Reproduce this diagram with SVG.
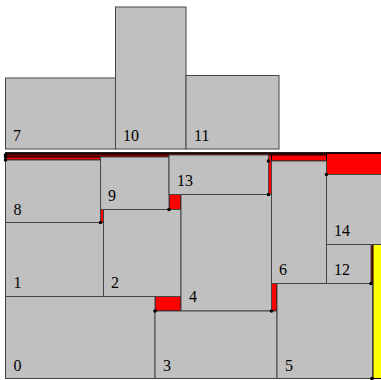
<svg xmlns="http://www.w3.org/2000/svg" width="381" height="380" viewBox="0 0 381 380">
<style>
.b{fill:#c0c0c0;stroke:#444;stroke-width:1}
.w{fill:#ff0000;stroke:#000;stroke-width:1}
.y{fill:#ffff00;stroke:#000;stroke-width:1}
.t{font-family:"Liberation Serif","Times New Roman",serif;font-size:16px;fill:#000}
.d{fill:#000}
</style>
<rect width="381" height="380" fill="#fff"/>
<g id="n7"><rect class="b" x="5.5" y="78" width="110" height="71"/><text class="t" x="13" y="141">7</text></g>
<g id="n10"><rect class="b" x="115.5" y="7" width="70.5" height="142"/><text class="t" x="123" y="141">10</text></g>
<g id="n11"><rect class="b" x="186" y="75.5" width="93" height="73.5"/><text class="t" x="194" y="141">11</text></g>
<g id="waste">
<rect class="w" x="5.5" y="153" width="378" height="2"/>
<rect class="w" x="5.5" y="155" width="163.5" height="2"/>
<rect class="w" x="5.5" y="157" width="95" height="3"/>
<rect class="w" x="271.5" y="155" width="55" height="6"/>
<rect class="w" x="268.5" y="155" width="3" height="39.5"/>
<rect class="w" x="326.5" y="153" width="57" height="21.5"/>
<rect class="w" x="100.5" y="209.5" width="3" height="13"/>
<rect class="w" x="169" y="194.5" width="12" height="15"/>
<rect class="w" x="155" y="296.5" width="26" height="14.5"/>
<rect class="w" x="271.5" y="283.5" width="5.5" height="27.5"/>
<rect class="w" x="371" y="244.5" width="2" height="39"/>
<rect class="y" x="373" y="244.5" width="10" height="134"/>
</g>
<g id="n8"><rect class="b" x="5.5" y="160" width="95" height="62.5"/><text class="t" x="13.5" y="214.5">8</text></g>
<g id="n9"><rect class="b" x="100.5" y="157" width="68.5" height="52.5"/><text class="t" x="108" y="201">9</text></g>
<g id="n13"><rect class="b" x="169" y="155" width="99.5" height="39.5"/><text class="t" x="177" y="186">13</text></g>
<g id="n6"><rect class="b" x="271.5" y="161" width="55" height="122.5"/><text class="t" x="279" y="275">6</text></g>
<g id="n14"><rect class="b" x="326.5" y="174.5" width="57" height="70"/><text class="t" x="334" y="236">14</text></g>
<g id="n12"><rect class="b" x="326.5" y="244.5" width="44.5" height="39"/><text class="t" x="334" y="275">12</text></g>
<g id="n1"><rect class="b" x="5.5" y="222.5" width="98" height="74"/><text class="t" x="13.5" y="288">1</text></g>
<g id="n2"><rect class="b" x="103.5" y="209.5" width="77.5" height="87"/><text class="t" x="111" y="288">2</text></g>
<g id="n4"><rect class="b" x="181" y="194.5" width="90.5" height="116.5"/><text class="t" x="189" y="302">4</text></g>
<g id="n0"><rect class="b" x="5.5" y="296.5" width="149.5" height="82"/><text class="t" x="13.5" y="371">0</text></g>
<g id="n3"><rect class="b" x="155" y="311" width="122" height="67.5"/><text class="t" x="163" y="371">3</text></g>
<g id="n5"><rect class="b" x="277" y="283.5" width="95.5" height="95"/><text class="t" x="285" y="371">5</text></g>
<g id="connectors">
<line x1="5" y1="153" x2="381" y2="153" stroke="#000" stroke-width="1.5"/>
<circle class="d" cx="5.5" cy="155" r="1.8"/>
<circle class="d" cx="5.5" cy="157" r="1.8"/>
<circle class="d" cx="5.5" cy="160" r="1.8"/>
<circle class="d" cx="100.5" cy="222.5" r="1.8"/>
<circle class="d" cx="169" cy="209.5" r="1.8"/>
<circle class="d" cx="268.5" cy="161" r="1.8"/>
<circle class="d" cx="268.5" cy="194.5" r="1.8"/>
<circle class="d" cx="326.5" cy="174.5" r="1.8"/>
<circle class="d" cx="155" cy="311" r="1.8"/>
<circle class="d" cx="271.5" cy="311" r="1.8"/>
<circle class="d" cx="371" cy="283.5" r="1.8"/>
<circle class="d" cx="372" cy="378.5" r="1.8"/>
</g>
</svg>
